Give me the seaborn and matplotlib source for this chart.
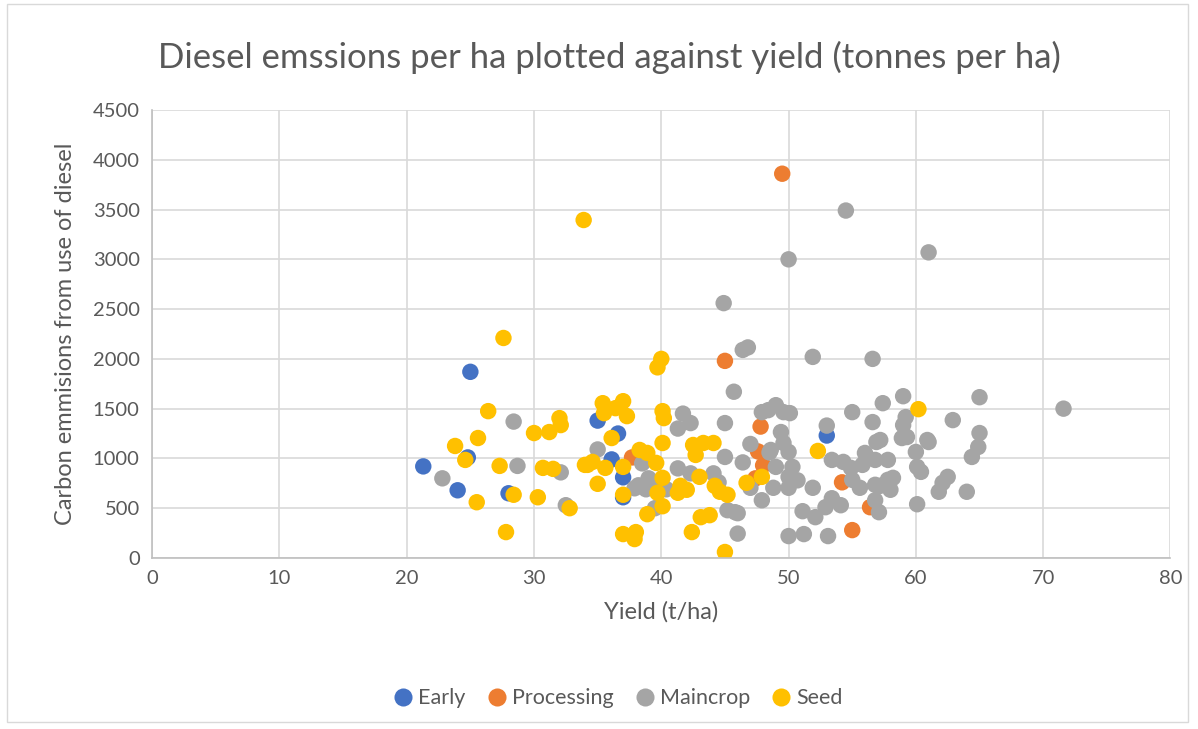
import pandas as pd
import matplotlib.pyplot as plt
import seaborn as sns
from matplotlib.patches import Rectangle

# values: yield (t/ha) and diesel CO2 per ha
early_x = [21.3, 25.0, 24.8, 24.0, 28.0, 35.0, 36.6, 36.1, 37.0, 37.0, 53.0]
early_y = [920, 1870, 1010, 680, 650, 1380, 1250, 990, 810, 610, 1230]

proc_x = [49.5, 45.0, 47.8, 47.6, 48.0, 47.4, 37.7, 54.2, 56.4, 55.0]
proc_y = [3860, 1980, 1320, 1070, 930, 800, 1010, 760, 510, 280]

main_x = [22.8, 28.4, 28.7, 32.1, 32.5, 35.0, 38.5, 38.2, 39.0, 37.9, 39.9, 39.5,
          41.7, 42.3, 41.3, 45.0, 45.7, 45.0, 41.3, 42.3, 44.1, 45.2, 46.0, 46.0,
          44.9, 46.4, 46.8, 51.9, 56.6, 54.5, 50.0, 61.0, 71.6,
          47.9, 49.0, 49.6, 50.1, 48.4, 49.4, 47.0, 48.6, 49.6, 50.0, 46.4, 49.0,
          50.3, 50.0, 50.7, 47.0, 48.8, 50.0, 51.9, 47.9, 45.8, 50.0, 51.1, 52.1,
          52.9, 53.4, 54.1, 51.2, 53.1, 53.0, 55.0, 56.6, 57.4, 56.9, 53.4, 54.3,
          54.9, 56.0, 55.8, 56.8, 57.8, 55.0, 55.6, 56.8, 57.8, 56.8, 57.1,
          59.0, 59.2, 59.0, 58.9, 59.3, 57.2, 60.0, 60.1, 60.4, 60.9, 61.0, 62.9,
          65.0, 65.0, 64.9, 64.4, 62.5, 62.1, 61.8, 64.0, 58.2, 58.0, 60.1, 57.2,
          38.8, 39.3, 40.4, 44.5, 48.5]
main_y = [800, 1370, 925, 860, 530, 1090, 950, 730, 800, 700, 710, 500,
          1450, 1355, 1300, 1355, 1670, 1015, 900, 850, 850, 480, 450, 245,
          2560, 2090, 2115, 2020, 2000, 3490, 3000, 3070, 1500,
          1465, 1535, 1465, 1455, 1485, 1265, 1145, 1085, 1155, 1065, 960, 915,
          915, 815, 780, 705, 705, 705, 705, 580, 460, 220, 470, 410,
          510, 600, 530, 240, 220, 1330, 1465, 1365, 1555, 1165, 985, 965,
          905, 1055, 935, 985, 985, 785, 705, 735, 785, 580, 460,
          1625, 1415, 1335, 1205, 1215, 1185, 1065, 915, 865, 1185, 1165, 1385,
          1615, 1255, 1115, 1015, 815, 755, 665, 665, 805, 685, 540, 725,
          690, 760, 690, 760, 1060]

seed_x = [35.4, 37.0, 35.5, 36.4, 37.3, 40.1, 40.2, 36.1, 40.1, 38.3, 38.9,
          34.2, 34.6, 35.6, 37.0, 39.6, 40.1, 35.0, 37.0, 39.7, 40.1, 38.9,
          37.0, 38.0, 37.9, 42.5, 43.3, 44.1, 42.7, 43.0, 41.5, 42.0, 41.3,
          44.2, 44.6, 45.2, 43.1, 43.8, 42.4, 45.0,
          26.4, 23.8, 25.6, 24.6, 27.3, 25.5, 28.4, 27.8, 30.0, 31.2, 32.0,
          32.1, 30.7, 31.5, 30.3, 32.8, 34.0, 27.6, 33.9, 39.7, 40.0, 60.2,
          52.3, 46.7, 47.9]
seed_y = [1555, 1575, 1455, 1505, 1425, 1475, 1405, 1205, 1155, 1085, 1055,
          935, 965, 905, 915, 955, 805, 745, 635, 655, 520, 440,
          240, 260, 190, 1135, 1155, 1155, 1035, 815, 725, 685, 655,
          725, 665, 635, 410, 430, 260, 60,
          1475, 1125, 1205, 985, 925, 560, 635, 260, 1255, 1265, 1405,
          1335, 905, 895, 610, 500, 935, 2210, 3395, 1915, 2000, 1495,
          1075, 755, 815]

series = ['Early', 'Processing', 'Maincrop', 'Seed']
colours = ['#4472C4', '#ED7D31', '#A5A5A5', '#FFC000']

df = pd.concat([
    pd.DataFrame({'yield': early_x, 'co2': early_y, 'type': 'Early'}),
    pd.DataFrame({'yield': proc_x, 'co2': proc_y, 'type': 'Processing'}),
    pd.DataFrame({'yield': main_x, 'co2': main_y, 'type': 'Maincrop'}),
    pd.DataFrame({'yield': seed_x, 'co2': seed_y, 'type': 'Seed'}),
], ignore_index=True)

sns.set_style('white')
plt.rcParams['font.family'] = ['Lato', 'DejaVu Sans']

fig = plt.figure(figsize=(11.98, 7.29), dpi=100)
ax = fig.add_axes([0.127, 0.2346, 0.85, 0.6145])

sns.scatterplot(data=df, x='yield', y='co2', hue='type', hue_order=series,
                palette=colours, s=140, linewidth=0, alpha=1, ax=ax, legend=True)

ax.set_xlim(0, 80)
ax.set_ylim(0, 4500)
ax.set_xticks(range(0, 81, 10))
ax.set_yticks(range(0, 4501, 500))
ax.grid(True, color='#D9D9D9', linewidth=1.2)
ax.set_axisbelow(True)
for side in ['top', 'right']:
    ax.spines[side].set_visible(False)
for side in ['left', 'bottom']:
    ax.spines[side].set_color('#BFBFBF')
    ax.spines[side].set_linewidth(1.2)
ax.tick_params(colors='#595959', labelsize=14.5, length=0, pad=9)

ax.set_xlabel('Yield (t/ha)', fontsize=17, color='#595959', labelpad=10)
ax.set_ylabel('Carbon emmisions from use of diesel', fontsize=17, color='#595959', labelpad=12)
fig.text(0.509, 0.921, 'Diesel emssions per ha plotted against yield (tonnes per ha)',
         ha='center', va='center', fontsize=25, color='#595959')

ax.legend(loc='center', bbox_to_anchor=(0.511, 0.042), bbox_transform=fig.transFigure,
          ncol=4, frameon=False, fontsize=15.5, handletextpad=-0.3, columnspacing=0.45,
          labelcolor='#595959', markerscale=1.1)

fig.patches.append(Rectangle((0.006, 0.01), 0.986, 0.985, transform=fig.transFigure,
                             fill=False, edgecolor='#D9D9D9', linewidth=1))

fig.savefig('out.png', dpi=100, facecolor='white')
